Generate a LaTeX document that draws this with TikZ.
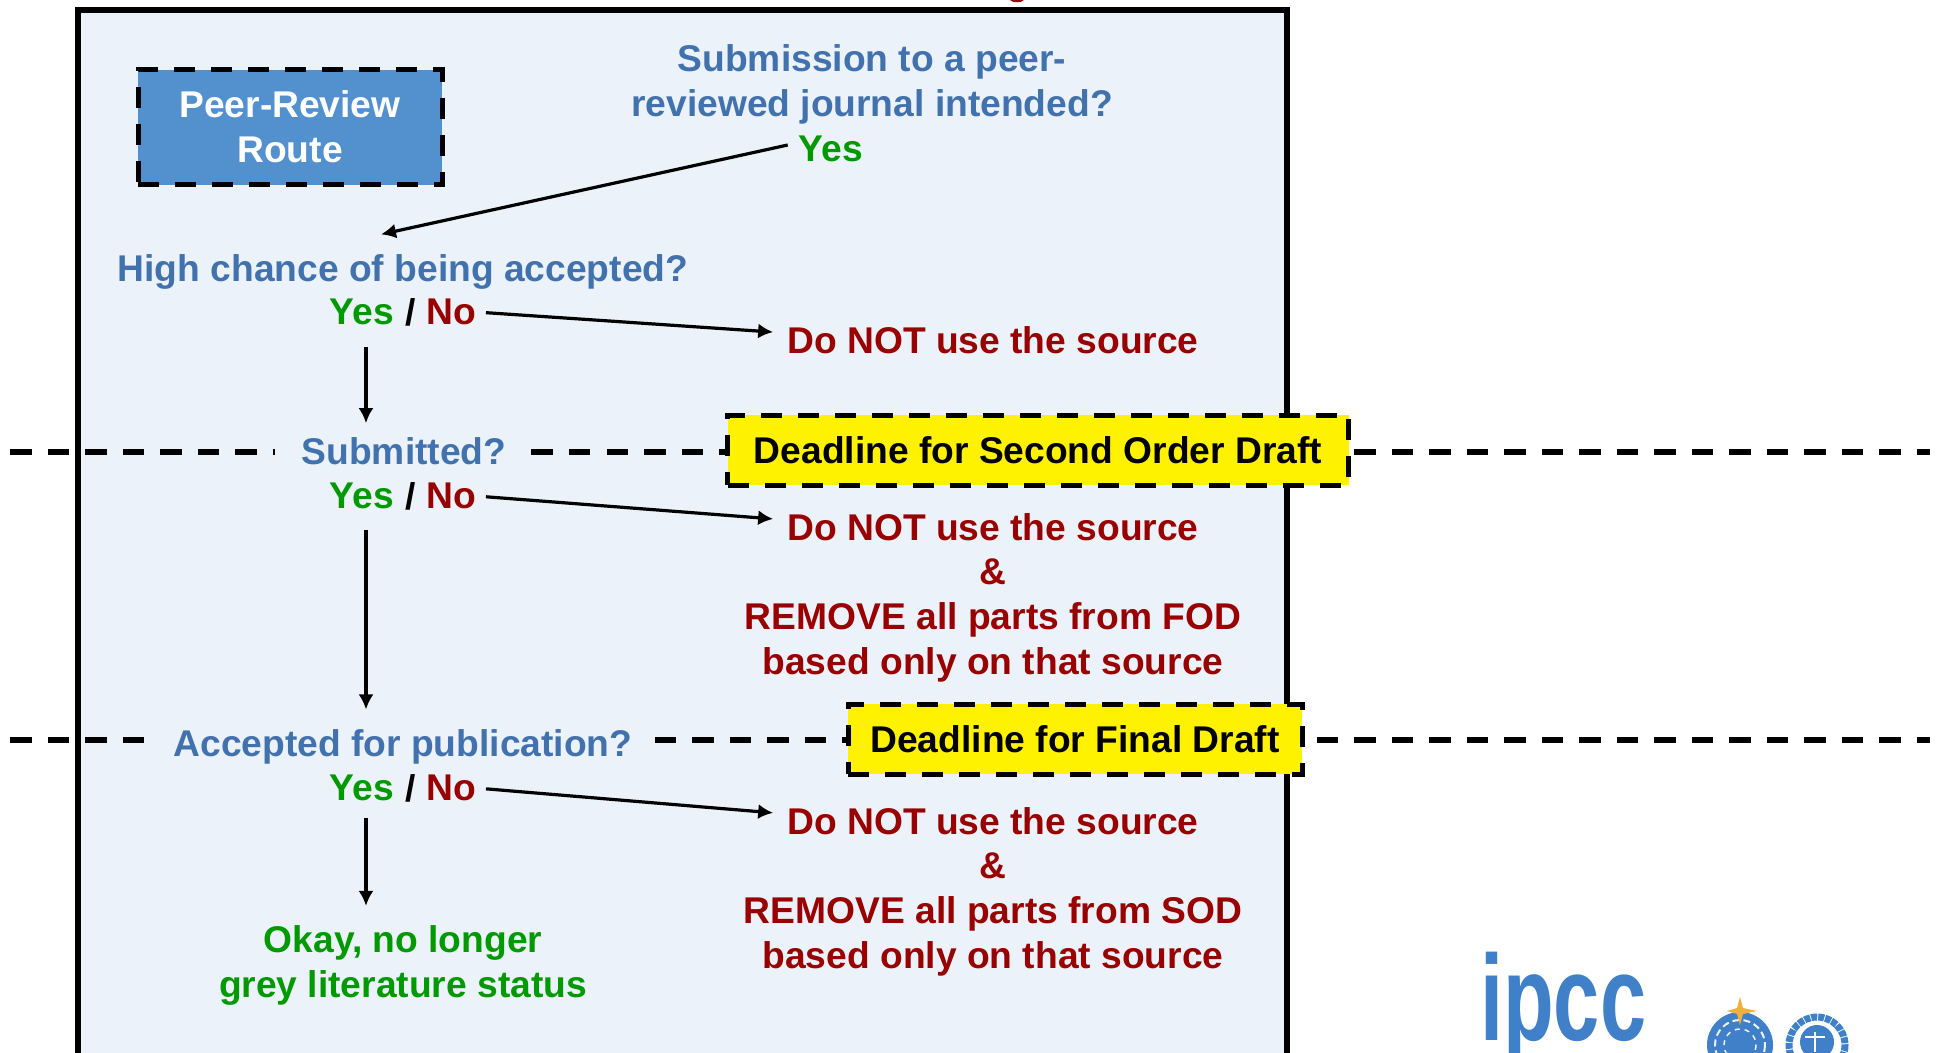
\documentclass[tikz,border=0pt]{standalone}
\usepackage{fontspec}
\setmainfont{Liberation Sans}
\usetikzlibrary{positioning,arrows.meta}
\definecolor{framefill}{HTML}{EBF2FA}
\definecolor{routefill}{HTML}{5390CE}
\definecolor{askblue}{HTML}{4272AE}
\definecolor{yesgreen}{HTML}{009A00}
\definecolor{nored}{HTML}{990000}
\definecolor{logoblue}{HTML}{3F80C8}
\definecolor{stargold}{HTML}{F0B040}
\tikzset{
  basic/.style    = {font=\fontsize{37.2}{45}\selectfont\bfseries, inner sep=0pt, align=center},
  ask/.style      = {basic, text=askblue},
  yes/.style      = {basic, text=yesgreen},
  no/.style       = {basic, text=nored},
  route/.style    = {basic, text=white, fill=routefill, draw=black, line width=5pt,
                     dash pattern=on 21pt off 16pt, minimum width=304pt, minimum height=115pt},
  limit/.style    = {basic, fill=yellow, draw=black, line width=5pt,
                     dash pattern=on 21pt off 16pt, minimum height=70pt},
  limitline/.style = {line width=5.5pt, dash pattern=on 21.5pt off 16pt},
  link/.style     = {->, line width=3.2pt}
}

\begin{document}
\begin{tikzpicture}[x=1pt, y=-1pt, >={Latex[length=15pt,width=15pt]}]
\useasboundingbox (0,0) rectangle (1942,1052);
\clip (0,0) rectangle (1942,1052);

% frame of the route
\draw[fill=framefill, line width=5.5pt] (78,10) rectangle (1287,1070);
\fill[nored] (1010,0) .. controls (1012,3) and (1022,3) .. (1024,0) -- cycle;

% the questions
\node[route] (route) at (290,127) {\raisebox{-3.5pt}{Peer-Review}\\\raisebox{-3.5pt}{Route}};
\node[ask] (q1) at (872,84) {Submission to a peer-\\reviewed journal intended?};
\node[yes] (y0) at (831,149) {Yes};
\node[ask] (q2) at (403,272) {High chance of being accepted?};
\node[ask] (q3) at (404,451) {Submitted?};
\node[ask] (q4) at (403,747) {Accepted for publication?};
\node[yes] (ok) at (403,965) {Okay, no longer\\grey literature status};

% the answers, first line of each result
\foreach \value/\ypos/\rpos in {1/312/340, 2/496/527, 3/788/821} {
  \node[yes] (y\value) at (362,\ypos) {Yes};
  \node[basic, right=11pt of y\value] (s\value) {/};
  \node[no, right=10pt of s\value] (n\value) {No};
  \node[no] (r\value) at (993,\rpos) {Do NOT use the source};
}
\node[no, below=18pt of r2] (f2) {\&\\REMOVE all parts from FOD\\based only on that source};
\node[no, below=18pt of r3] (f3) {\&\\REMOVE all parts from SOD\\based only on that source};

% deadlines
\node[limit, minimum width=621pt] (sod) at (1038,450) {Deadline for Second Order Draft};
\node[limit, minimum width=454pt] (fin) at (1075,739) {Deadline for Final Draft};
\coordinate (sodl) at (10,452);
\coordinate (sodr) at (1930,452);
\coordinate (finl) at (10,740);
\coordinate (finr) at (1930,740);

\draw[limitline, shorten >=27pt] (sodl) -- (q3.west |- sodl);
\draw[limitline, shorten <=25pt] (q3.east |- sodl) -- (sod.west |- sodl);
\draw[limitline, shorten <=3pt] (sod.east |- sodr) -- (sodr);
\draw[limitline, shorten >=25pt] (finl) -- (q4.west |- finl);
\draw[limitline, shorten <=22pt] (q4.east |- finl) -- (fin.west |- finl);
\draw[limitline, shorten <=12pt] (fin.east |- finr) -- (finr);

% lines between questions and answers
\draw[link] ([shift={(-11,-4)}]y0.west) -- ([shift={(-22,-20)}]q2.north);
\foreach \value in {1,2,3}
  \draw[link, shorten <=10pt, shorten >=14pt] (n\value.east) -- ([yshift=7pt]r\value.west);

\draw[link, shorten <=22pt, shorten >=14pt] ([xshift=4pt]y1.south) -- ([xshift=4pt]y1.south |- q3.north);
\draw[link, shorten <=21pt, shorten >=20pt] ([xshift=4pt]y2.south) -- ([xshift=4pt]y2.south |- q4.north);
\draw[link, shorten <=17pt, shorten >=19pt] ([xshift=4pt]y3.south) -- ([xshift=4pt]y3.south |- ok.north);

% logo
\node[text=logoblue, font=\fontsize{122}{122}\selectfont\bfseries, inner sep=0pt, anchor=base west,
      xscale=0.68, transform shape] (ipcc) at (1480,1040) {ipcc};
\fill[logoblue] (1740,1045) circle (33);
\draw[framefill, line width=2pt, dash pattern=on 7pt off 4pt] (1740,1045) circle (25);
\draw[framefill, line width=1.5pt, dash pattern=on 5pt off 5pt] (1740,1045) circle (16);
\fill[stargold] (1740,997) -- (1743,1008) -- (1757,1011) -- (1743,1014) -- (1740,1025)
  -- (1737,1014) -- (1727,1011) -- (1737,1008) -- cycle;
\draw[logoblue, line width=7pt, dash pattern=on 6pt off 1pt] (1817,1045) circle (28);
\fill[logoblue] (1817,1042) circle (17);
\draw[white, line width=1.5pt] (1815,1032) -- (1815,1052) (1805,1037) -- (1825,1037);
\end{tikzpicture}
\end{document}
